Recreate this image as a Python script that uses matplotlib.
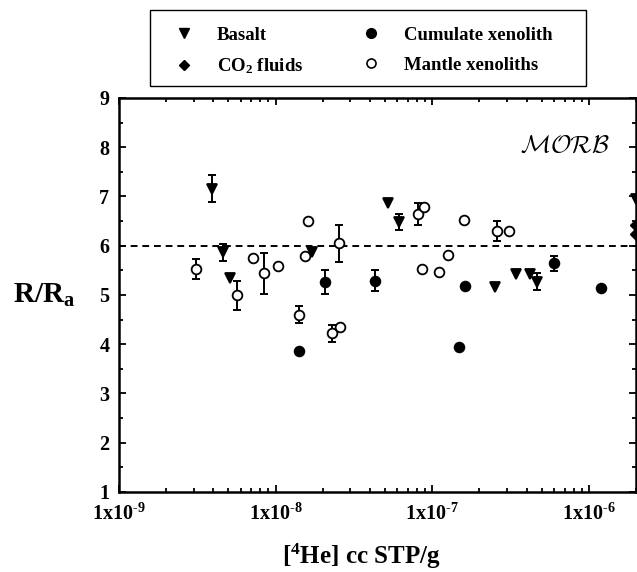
import numpy as np
import matplotlib
matplotlib.use("Agg")
import matplotlib.pyplot as plt
from matplotlib.lines import Line2D
from matplotlib.patches import Rectangle
from matplotlib.ticker import LogLocator, NullFormatter, MultipleLocator

# fonts: bold Times-like serif everywhere
plt.rcParams['font.family'] = ['Liberation Serif', 'DejaVu Serif']
plt.rcParams['font.weight'] = 'bold'
plt.rcParams['axes.labelweight'] = 'bold'
plt.rcParams['mathtext.fontset'] = 'custom'
plt.rcParams['mathtext.rm'] = 'Liberation Serif:bold'
plt.rcParams['mathtext.bf'] = 'Liberation Serif:bold'
plt.rcParams['mathtext.it'] = 'Liberation Serif:bold'
plt.rcParams['mathtext.default'] = 'regular'

# data
basalt_x = [3.9e-9, 4.6e-9, 5.1e-9, 1.7e-8, 5.2e-8, 6.1e-8, 2.5e-7, 3.45e-7, 4.2e-7, 4.7e-7, 2.0e-6]
basalt_y = [7.16, 5.87, 5.35, 5.88, 6.87, 6.48, 5.16, 5.42, 5.42, 5.27, 6.94]
basalt_err = [0.28, 0.17, 0, 0, 0, 0.17, 0, 0, 0, 0.17, 0]

cumulate_x = [1.42e-8, 2.08e-8, 4.34e-8, 1.48e-7, 1.63e-7, 5.97e-7, 1.2e-6]
cumulate_y = [3.87, 5.26, 5.29, 3.95, 5.18, 5.64, 5.14]
cumulate_err = [0, 0.25, 0.21, 0, 0, 0.15, 0]

mantle_x = [3.1e-9, 5.7e-9, 7.2e-9, 8.4e-9, 1.03e-8, 1.42e-8, 1.54e-8, 1.61e-8, 2.29e-8, 2.58e-8,
            2.54e-8, 8.1e-8, 8.9e-8, 8.6e-8, 1.10e-7, 1.27e-7, 1.60e-7, 2.61e-7, 3.07e-7]
mantle_y = [5.53, 4.99, 5.76, 5.44, 5.59, 4.60, 5.80, 6.50, 4.22, 4.35,
            6.05, 6.65, 6.78, 5.53, 5.46, 5.81, 6.53, 6.30, 6.30]
mantle_err = [0.2, 0.3, 0, 0.42, 0, 0.17, 0, 0, 0.17, 0,
              0.38, 0.22, 0, 0, 0, 0, 0, 0.2, 0]

co2_x = [2.0e-6, 2.0e-6]
co2_y = [6.43, 6.24]

morb_ratio = 6.0
xticks = [1e-9, 1e-8, 1e-7, 1e-6]
xticklabels = [r'1x10$^{\text{-9}}$', r'1x10$^{\text{-8}}$', r'1x10$^{\text{-7}}$', r'1x10$^{\text{-6}}$']
yticks = [1, 2, 3, 4, 5, 6, 7, 8, 9]

fig = plt.figure(figsize=(6.37, 5.72), dpi=100)
ax = fig.add_axes([0.1868, 0.1399, 0.8116, 0.6888])


def draw(x, y, err, marker, face, ms):
    x = np.array(x); y = np.array(y); err = np.array(err)
    m = err > 0
    if m.any():
        ax.errorbar(x[m], y[m], yerr=err[m], fmt='none', ecolor='k',
                    elinewidth=1.4, capsize=3, capthick=1.4, zorder=3)
    ax.plot(x, y, ls='none', marker=marker, ms=ms, mfc=face, mec='k',
            mew=1.3, zorder=4)


draw(basalt_x, basalt_y, basalt_err, 'v', 'k', 7.5)
draw(cumulate_x, cumulate_y, cumulate_err, 'o', 'k', 7)
draw(mantle_x, mantle_y, mantle_err, 'o', 'white', 7)
ax.plot(co2_x, co2_y, ls='none', marker='D', ms=6, mfc='k', mec='k', zorder=4)

ax.axhline(morb_ratio, color='k', lw=1.4, ls=(0, (3.5, 2.5)), zorder=2)

ax.set_xscale('log')
ax.set_xlim(1e-9, 2e-6)
ax.set_ylim(1, 9)
ax.set_xticks(xticks)
ax.set_xticklabels(xticklabels)
ax.xaxis.set_minor_locator(LogLocator(base=10, subs=np.arange(2, 10)))
ax.xaxis.set_minor_formatter(NullFormatter())
ax.set_yticks(yticks)
ax.yaxis.set_minor_locator(MultipleLocator(0.5))

ax.tick_params(which='both', direction='in', top=True, right=True, width=1.3)
ax.tick_params(which='major', length=5, labelsize=14.5, pad=7)
ax.tick_params(axis='x', which='major', pad=8.5)
ax.tick_params(which='minor', length=3)
for s in ax.spines.values():
    s.set_linewidth(1.8)

ax.set_xlabel('[$^{4}$He] cc STP/g', fontsize=18, va='center')
ax.xaxis.set_label_coords(0.468, -0.163)
ax.set_ylabel('R/R$_{a}$', fontsize=21, rotation=0, va='center', ha='center')
ax.yaxis.set_label_coords(-0.145, 0.5)

ax.text(7e-7, 8.03, r'$\mathcal{MORB}$', fontsize=18, ha='center', va='center',
        math_fontfamily='cm')

# legend: frame drawn by hand, entries placed inside
fig.patches.append(Rectangle((150 / 637, 1 - 86 / 572), 436 / 637, 76 / 572,
                             transform=fig.transFigure, fill=False,
                             edgecolor='k', lw=1.0))
handles = [
    Line2D([], [], ls='none', marker='v', ms=7.5, mfc='k', mec='k'),
    Line2D([], [], ls='none', marker='D', ms=5.5, mfc='k', mec='k'),
    Line2D([], [], ls='none', marker='o', ms=7, mfc='k', mec='k'),
    Line2D([], [], ls='none', marker='o', ms=6.5, mfc='white', mec='k', mew=1.2),
]
labels = ['Basalt', 'CO$_2$ fluids', 'Cumulate xenolith', 'Mantle xenoliths']
leg = fig.legend(handles, labels, ncol=2, loc='upper left',
                 bbox_to_anchor=(150 / 637, 1 - 12 / 572),
                 bbox_transform=fig.transFigure, borderaxespad=0,
                 frameon=False, handlelength=2.08, handletextpad=0.72,
                 borderpad=0.77, labelspacing=0.7, columnspacing=2.55,
                 prop={'weight': 'bold', 'size': 13.5})

fig.savefig('out.png', dpi=100)
